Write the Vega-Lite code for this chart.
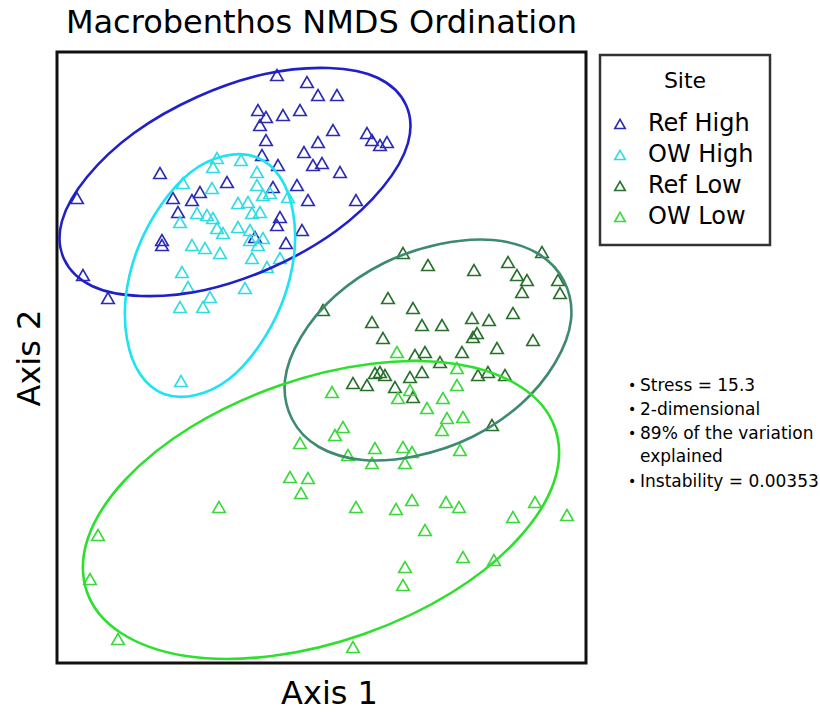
{
  "$schema": "https://vega.github.io/schema/vega-lite/v6.json",
  "width": 529,
  "height": 611,
  "autosize": {"type": "none"},
  "padding": {"left": 57, "top": 52, "right": 234, "bottom": 49},
  "background": "white",
  "title": {"text": "Macrobenthos NMDS Ordination", "fontSize": 32, "font": "DejaVu Sans", "fontWeight": "normal", "color": "black", "anchor": "middle", "offset": 12},
  "config": {
    "font": "DejaVu Sans",
    "view": {"stroke": "#111111", "strokeWidth": 3},
    "axis": {"grid": false, "ticks": false, "labels": false, "domain": false, "titleFont": "DejaVu Sans", "titleFontSize": 32, "titleFontWeight": "normal", "titleColor": "black"},
    "legend": {"strokeWidth": 2.5}
  },
  "datasets": {
    "points": [
      {"site":"Ref High","x":-0.44,"y":2.82},{"site":"Ref High","x":-0.14,"y":2.75},{"site":"Ref High","x":-0.03,"y":2.62},{"site":"Ref High","x":0.16,"y":2.62},{"site":"Ref High","x":-0.63,"y":2.47},{"site":"Ref High","x":-0.55,"y":2.40},{"site":"Ref High","x":-0.61,"y":2.32},{"site":"Ref High","x":-0.38,"y":2.42},{"site":"Ref High","x":-0.21,"y":2.47},{"site":"Ref High","x":0.12,"y":2.27},{"site":"Ref High","x":-0.03,"y":2.15},{"site":"Ref High","x":0.46,"y":2.24},{"site":"Ref High","x":0.51,"y":2.17},{"site":"Ref High","x":0.59,"y":2.12},{"site":"Ref High","x":0.66,"y":2.15},{"site":"Ref High","x":-0.55,"y":2.17},{"site":"Ref High","x":-0.59,"y":2.02},{"site":"Ref High","x":-0.17,"y":2.05},{"site":"Ref High","x":-0.08,"y":1.92},{"site":"Ref High","x":0.01,"y":1.94},{"site":"Ref High","x":-0.43,"y":1.92},{"site":"Ref High","x":0.19,"y":1.85},{"site":"Ref High","x":-1.61,"y":1.84},{"site":"Ref High","x":-0.94,"y":1.75},{"site":"Ref High","x":-0.48,"y":1.70},{"site":"Ref High","x":-0.24,"y":1.72},{"site":"Ref High","x":-1.21,"y":1.65},{"site":"Ref High","x":-1.48,"y":1.59},{"site":"Ref High","x":-1.29,"y":1.57},{"site":"Ref High","x":-0.13,"y":1.57},{"site":"Ref High","x":0.35,"y":1.57},{"site":"Ref High","x":-2.44,"y":1.59},{"site":"Ref High","x":-1.43,"y":1.45},{"site":"Ref High","x":-0.41,"y":1.40},{"site":"Ref High","x":-0.44,"y":1.32},{"site":"Ref High","x":-0.19,"y":1.27},{"site":"Ref High","x":-1.59,"y":1.17},{"site":"Ref High","x":-1.59,"y":1.12},{"site":"Ref High","x":-0.66,"y":1.20},{"site":"Ref High","x":-0.35,"y":1.14},{"site":"Ref High","x":-2.38,"y":0.82},{"site":"Ref High","x":-2.13,"y":0.59},
      {"site":"OW High","x":-1.04,"y":1.99},{"site":"OW High","x":-0.80,"y":1.97},{"site":"OW High","x":-1.08,"y":1.90},{"site":"OW High","x":-0.64,"y":1.85},{"site":"OW High","x":-1.38,"y":1.74},{"site":"OW High","x":-1.09,"y":1.69},{"site":"OW High","x":-0.64,"y":1.72},{"site":"OW High","x":-0.58,"y":1.62},{"site":"OW High","x":-0.51,"y":1.64},{"site":"OW High","x":-0.33,"y":1.60},{"site":"OW High","x":-0.83,"y":1.54},{"site":"OW High","x":-0.73,"y":1.55},{"site":"OW High","x":-1.24,"y":1.44},{"site":"OW High","x":-1.14,"y":1.42},{"site":"OW High","x":-0.69,"y":1.44},{"site":"OW High","x":-0.61,"y":1.45},{"site":"OW High","x":-1.41,"y":1.35},{"site":"OW High","x":-1.08,"y":1.39},{"site":"OW High","x":-1.04,"y":1.29},{"site":"OW High","x":-0.98,"y":1.24},{"site":"OW High","x":-0.83,"y":1.30},{"site":"OW High","x":-0.71,"y":1.27},{"site":"OW High","x":-1.29,"y":1.12},{"site":"OW High","x":-1.16,"y":1.09},{"site":"OW High","x":-1.01,"y":1.04},{"site":"OW High","x":-0.71,"y":1.17},{"site":"OW High","x":-0.58,"y":1.19},{"site":"OW High","x":-0.63,"y":1.12},{"site":"OW High","x":-0.69,"y":0.99},{"site":"OW High","x":-0.54,"y":0.90},{"site":"OW High","x":-0.41,"y":0.99},{"site":"OW High","x":-1.39,"y":0.85},{"site":"OW High","x":-1.33,"y":0.70},{"site":"OW High","x":-0.76,"y":0.69},{"site":"OW High","x":-1.11,"y":0.60},{"site":"OW High","x":-1.41,"y":0.50},{"site":"OW High","x":-1.18,"y":0.50},{"site":"OW High","x":-1.40,"y":-0.24},
      {"site":"Ref Low","x":0.82,"y":1.04},{"site":"Ref Low","x":2.21,"y":1.05},{"site":"Ref Low","x":1.07,"y":0.92},{"site":"Ref Low","x":1.53,"y":0.87},{"site":"Ref Low","x":1.87,"y":0.95},{"site":"Ref Low","x":1.96,"y":0.82},{"site":"Ref Low","x":2.06,"y":0.77},{"site":"Ref Low","x":2.01,"y":0.65},{"site":"Ref Low","x":2.37,"y":0.77},{"site":"Ref Low","x":2.39,"y":0.64},{"site":"Ref Low","x":0.02,"y":0.47},{"site":"Ref Low","x":0.67,"y":0.59},{"site":"Ref Low","x":0.92,"y":0.49},{"site":"Ref Low","x":0.51,"y":0.35},{"site":"Ref Low","x":1.01,"y":0.32},{"site":"Ref Low","x":1.21,"y":0.32},{"site":"Ref Low","x":1.51,"y":0.39},{"site":"Ref Low","x":1.68,"y":0.37},{"site":"Ref Low","x":1.92,"y":0.44},{"site":"Ref Low","x":0.62,"y":0.19},{"site":"Ref Low","x":1.52,"y":0.20},{"site":"Ref Low","x":1.56,"y":0.24},{"site":"Ref Low","x":2.12,"y":0.17},{"site":"Ref Low","x":1.76,"y":0.09},{"site":"Ref Low","x":1.41,"y":0.05},{"site":"Ref Low","x":0.94,"y":0.02},{"site":"Ref Low","x":1.04,"y":0.05},{"site":"Ref Low","x":1.19,"y":-0.05},{"site":"Ref Low","x":0.59,"y":-0.15},{"site":"Ref Low","x":0.64,"y":-0.18},{"site":"Ref Low","x":0.54,"y":-0.16},{"site":"Ref Low","x":0.32,"y":-0.26},{"site":"Ref Low","x":0.46,"y":-0.28},{"site":"Ref Low","x":0.74,"y":-0.30},{"site":"Ref Low","x":0.89,"y":-0.20},{"site":"Ref Low","x":1.01,"y":-0.15},{"site":"Ref Low","x":1.57,"y":-0.18},{"site":"Ref Low","x":1.67,"y":-0.15},{"site":"Ref Low","x":1.84,"y":-0.18},{"site":"Ref Low","x":0.92,"y":-0.40},{"site":"Ref Low","x":1.71,"y":-0.68},
      {"site":"OW Low","x":0.76,"y":0.05},{"site":"OW Low","x":0.11,"y":-0.35},{"site":"OW Low","x":1.36,"y":-0.11},{"site":"OW Low","x":1.36,"y":-0.28},{"site":"OW Low","x":1.22,"y":-0.41},{"site":"OW Low","x":1.06,"y":-0.51},{"site":"OW Low","x":0.77,"y":-0.41},{"site":"OW Low","x":0.89,"y":-0.33},{"site":"OW Low","x":1.26,"y":-0.61},{"site":"OW Low","x":1.21,"y":-0.73},{"site":"OW Low","x":1.42,"y":-0.60},{"site":"OW Low","x":0.22,"y":-0.70},{"site":"OW Low","x":0.14,"y":-0.78},{"site":"OW Low","x":-0.21,"y":-0.86},{"site":"OW Low","x":0.27,"y":-0.98},{"site":"OW Low","x":0.54,"y":-0.91},{"site":"OW Low","x":0.51,"y":-1.06},{"site":"OW Low","x":0.82,"y":-0.90},{"site":"OW Low","x":0.91,"y":-0.95},{"site":"OW Low","x":0.84,"y":-1.06},{"site":"OW Low","x":1.39,"y":-0.93},{"site":"OW Low","x":-0.31,"y":-1.20},{"site":"OW Low","x":-0.13,"y":-1.21},{"site":"OW Low","x":-0.20,"y":-1.36},{"site":"OW Low","x":-1.02,"y":-1.50},{"site":"OW Low","x":0.35,"y":-1.50},{"site":"OW Low","x":0.75,"y":-1.52},{"site":"OW Low","x":0.91,"y":-1.43},{"site":"OW Low","x":1.25,"y":-1.45},{"site":"OW Low","x":1.38,"y":-1.50},{"site":"OW Low","x":1.04,"y":-1.73},{"site":"OW Low","x":1.92,"y":-1.60},{"site":"OW Low","x":2.14,"y":-1.45},{"site":"OW Low","x":2.46,"y":-1.58},{"site":"OW Low","x":-2.23,"y":-1.78},{"site":"OW Low","x":-2.31,"y":-2.22},{"site":"OW Low","x":0.84,"y":-2.10},{"site":"OW Low","x":0.82,"y":-2.28},{"site":"OW Low","x":1.42,"y":-2.00},{"site":"OW Low","x":1.73,"y":-2.03},{"site":"OW Low","x":-2.03,"y":-2.82},{"site":"OW Low","x":0.32,"y":-2.90}
    ],
    "ellipses": [
      {"site":"Ref High","i":0,"x":0.85,"y":2.52},{"site":"Ref High","i":1,"x":0.57,"y":2.79},{"site":"Ref High","i":2,"x":0.08,"y":2.89},{"site":"Ref High","i":3,"x":-0.56,"y":2.83},{"site":"Ref High","i":4,"x":-1.24,"y":2.60},{"site":"Ref High","i":5,"x":-1.87,"y":2.24},{"site":"Ref High","i":6,"x":-2.34,"y":1.80},{"site":"Ref High","i":7,"x":-2.59,"y":1.36},{"site":"Ref High","i":8,"x":-2.57,"y":0.98},{"site":"Ref High","i":9,"x":-2.29,"y":0.71},{"site":"Ref High","i":10,"x":-1.80,"y":0.61},{"site":"Ref High","i":11,"x":-1.16,"y":0.67},{"site":"Ref High","i":12,"x":-0.48,"y":0.90},{"site":"Ref High","i":13,"x":0.15,"y":1.26},{"site":"Ref High","i":14,"x":0.62,"y":1.70},{"site":"Ref High","i":15,"x":0.87,"y":2.14},
      {"site":"OW High","i":0,"x":-0.65,"y":2.00},{"site":"OW High","i":1,"x":-0.97,"y":2.01},{"site":"OW High","i":2,"x":-1.30,"y":1.85},{"site":"OW High","i":3,"x":-1.60,"y":1.52},{"site":"OW High","i":4,"x":-1.83,"y":1.09},{"site":"OW High","i":5,"x":-1.95,"y":0.62},{"site":"OW High","i":6,"x":-1.94,"y":0.18},{"site":"OW High","i":7,"x":-1.81,"y":-0.17},{"site":"OW High","i":8,"x":-1.57,"y":-0.37},{"site":"OW High","i":9,"x":-1.25,"y":-0.38},{"site":"OW High","i":10,"x":-0.92,"y":-0.22},{"site":"OW High","i":11,"x":-0.62,"y":0.11},{"site":"OW High","i":12,"x":-0.39,"y":0.54},{"site":"OW High","i":13,"x":-0.27,"y":1.01},{"site":"OW High","i":14,"x":-0.28,"y":1.45},{"site":"OW High","i":15,"x":-0.41,"y":1.80},
      {"site":"Ref Low","i":0,"x":2.43,"y":0.76},{"site":"Ref Low","i":1,"x":2.16,"y":1.04},{"site":"Ref Low","i":2,"x":1.72,"y":1.17},{"site":"Ref Low","i":3,"x":1.19,"y":1.13},{"site":"Ref Low","i":4,"x":0.63,"y":0.94},{"site":"Ref Low","i":5,"x":0.14,"y":0.61},{"site":"Ref Low","i":6,"x":-0.20,"y":0.20},{"site":"Ref Low","i":7,"x":-0.36,"y":-0.23},{"site":"Ref Low","i":8,"x":-0.29,"y":-0.62},{"site":"Ref Low","i":9,"x":-0.02,"y":-0.90},{"site":"Ref Low","i":10,"x":0.42,"y":-1.03},{"site":"Ref Low","i":11,"x":0.95,"y":-0.99},{"site":"Ref Low","i":12,"x":1.51,"y":-0.80},{"site":"Ref Low","i":13,"x":2.00,"y":-0.47},{"site":"Ref Low","i":14,"x":2.34,"y":-0.06},{"site":"Ref Low","i":15,"x":2.50,"y":0.37},
      {"site":"OW Low","i":0,"x":2.34,"y":-0.71},{"site":"OW Low","i":1,"x":2.00,"y":-0.30},{"site":"OW Low","i":2,"x":1.35,"y":-0.07},{"site":"OW Low","i":3,"x":0.49,"y":-0.07},{"site":"OW Low","i":4,"x":-0.43,"y":-0.29},{"site":"OW Low","i":5,"x":-1.30,"y":-0.70},{"site":"OW Low","i":6,"x":-1.96,"y":-1.23},{"site":"OW Low","i":7,"x":-2.33,"y":-1.81},{"site":"OW Low","i":8,"x":-2.34,"y":-2.35},{"site":"OW Low","i":9,"x":-2.00,"y":-2.76},{"site":"OW Low","i":10,"x":-1.35,"y":-2.99},{"site":"OW Low","i":11,"x":-0.49,"y":-2.99},{"site":"OW Low","i":12,"x":0.43,"y":-2.77},{"site":"OW Low","i":13,"x":1.30,"y":-2.36},{"site":"OW Low","i":14,"x":1.96,"y":-1.83},{"site":"OW Low","i":15,"x":2.33,"y":-1.25}
    ],
    "notes": [
      {"label":"Stress = 15.3","x":3.19,"y":-0.29},
      {"label":"2-dimensional","x":3.19,"y":-0.53},
      {"label":"89% of the variation","x":3.19,"y":-0.77},
      {"label":"explained","x":3.19,"y":-1.00},
      {"label":"Instability = 0.00353","x":3.19,"y":-1.25}
    ],
    "bullets": [
      {"x":3.11,"y":-0.29},{"x":3.11,"y":-0.53},{"x":3.11,"y":-0.77},{"x":3.11,"y":-1.25}
    ]
  },
  "encoding": {
    "x": {"field": "x", "type": "quantitative", "scale": {"domain": [-2.64, 2.65], "nice": false, "zero": false}, "axis": {"title": "Axis 1", "titlePadding": 15, "titleX": 272}},
    "y": {"field": "y", "type": "quantitative", "scale": {"domain": [-3.06, 3.05], "nice": false, "zero": false}, "axis": {"title": "Axis 2", "titlePadding": 11}}
  },
  "layer": [
    {
      "data": {"name": "points"},
      "mark": {"type": "point", "shape": "triangle-up", "filled": false, "size": 160, "strokeWidth": 1.6, "opacity": 1},
      "encoding": {
        "color": {
          "field": "site", "type": "nominal",
          "scale": {"domain": ["Ref High", "OW High", "Ref Low", "OW Low"], "range": ["#2a2ab4", "#30dbe4", "#26702a", "#3ad83a"]},
          "legend": {
            "orient": "none", "legendX": 543, "legendY": 3,
            "title": "Site", "titleAnchor": "middle", "titleFontSize": 22, "titleFontWeight": "normal", "titleColor": "black", "titlePadding": 19,
            "labelFontSize": 24, "labelColor": "black", "labelOffset": 16,
            "symbolType": "triangle-up", "symbolSize": 110, "symbolStrokeWidth": 1.6, "symbolOffset": -8,
            "rowPadding": 7, "padding": 16, "strokeColor": "#333333"
          }
        }
      }
    },
    {
      "data": {"name": "ellipses"},
      "mark": {"type": "line", "interpolate": "cardinal-closed", "strokeWidth": 2.6},
      "encoding": {
        "stroke": {
          "field": "site", "type": "nominal",
          "scale": {"domain": ["Ref High", "OW High", "Ref Low", "OW Low"], "range": ["#2020c8", "#1ee3f0", "#3e8a70", "#2de02d"]},
          "legend": null
        },
        "detail": {"field": "site"},
        "order": {"field": "i", "type": "quantitative"}
      }
    },
    {
      "data": {"name": "bullets"},
      "mark": {"type": "text", "text": "•", "fontSize": 14, "align": "center", "baseline": "middle", "color": "black"}
    },
    {
      "data": {"name": "notes"},
      "mark": {"type": "text", "fontSize": 17, "align": "left", "baseline": "middle", "color": "black"},
      "encoding": {"text": {"field": "label"}}
    }
  ]
}
